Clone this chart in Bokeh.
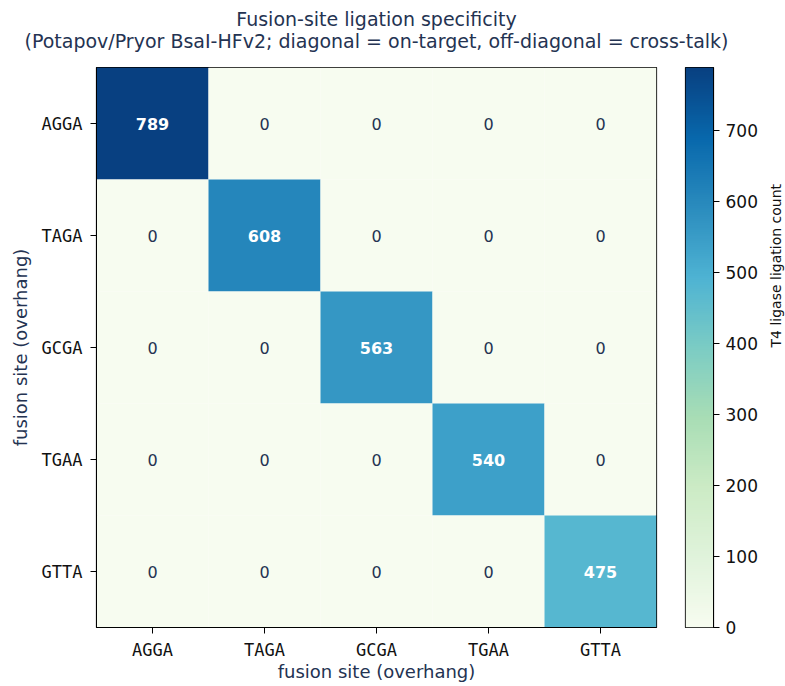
import math
import numpy as np
from bokeh.plotting import figure
from bokeh.layouts import row, column
from bokeh.models import (LinearColorMapper, FixedTicker, ColumnDataSource,
                          FactorRange, Range1d)
from bokeh.transform import transform
from bokeh.embed import file_html
from bokeh.resources import INLINE
from bokeh.core.properties import value

# ---- data ----
sites = ["AGGA", "TAGA", "GCGA", "TGAA", "GTTA"]
counts = [
    [789, 0, 0, 0, 0],
    [0, 608, 0, 0, 0],
    [0, 0, 563, 0, 0],
    [0, 0, 0, 540, 0],
    [0, 0, 0, 0, 475],
]
cbar_ticks = [0, 100, 200, 300, 400, 500, 600, 700]

title_lines = ["Fusion-site ligation specificity",
               "(Potapov/Pryor BsaI-HFv2; diagonal = on-target, off-diagonal = cross-talk)"]
xlabel = "fusion site (overhang)"
ylabel = "fusion site (overhang)"
cbar_label = "T4 ligase ligation count"

# ---- colormap (GnBu) ----
gnbu9 = ['#f7fcf0', '#e0f3db', '#ccebc5', '#a8ddb5', '#7bccc4', '#4eb3d3', '#2b8cbe', '#0868ac', '#084081']
def hex2rgb(h):
    return tuple(int(h[i:i + 2], 16) for i in (1, 3, 5))
pal = []
n = 256
for k in range(n):
    t = k / (n - 1) * (len(gnbu9) - 1)
    i = min(int(t), len(gnbu9) - 2)
    f = t - i
    a, b = hex2rgb(gnbu9[i]), hex2rgb(gnbu9[i + 1])
    c = tuple(round(a[j] + (b[j] - a[j]) * f) for j in range(3))
    pal.append("#%02x%02x%02x" % c)

vmax = max(max(r) for r in counts)
mapper = LinearColorMapper(palette=pal, low=0, high=vmax)

xs, ys, vals, lbl = [], [], [], []
for r, rw in enumerate(counts):
    for c, v in enumerate(rw):
        xs.append(sites[c]); ys.append(sites[r]); vals.append(v); lbl.append(str(v))
src = ColumnDataSource(dict(x=xs, y=ys, v=vals, t=lbl))
hi = ColumnDataSource(dict(x=[x for x, v in zip(xs, vals) if v > vmax / 2],
                           y=[y for y, v in zip(ys, vals) if v > vmax / 2],
                           t=[t for t, v in zip(lbl, vals) if v > vmax / 2]))
lo = ColumnDataSource(dict(x=[x for x, v in zip(xs, vals) if v <= vmax / 2],
                           y=[y for y, v in zip(ys, vals) if v <= vmax / 2],
                           t=[t for t, v in zip(lbl, vals) if v <= vmax / 2]))

navy = "#243352"
TITLE_H = 60
TOP, BOTTOM = 7, 59

# ---- title strip ----
tf = figure(frame_width=785, frame_height=TITLE_H, x_range=Range1d(0, 785), y_range=Range1d(TITLE_H, 0),
            output_backend="svg", toolbar_location=None, min_border=0)
tf.title = None
tf.axis.visible = False
tf.grid.visible = False
tf.outline_line_color = None
tf.text(x=[376, 376], y=[18, 40], text=title_lines, text_color=navy,
        text_font=value("DejaVu Sans"), text_font_size="19px",
        text_align="center", text_baseline="middle")

# ---- heatmap ----
p = figure(frame_width=560, frame_height=560,
           x_range=FactorRange(*sites), y_range=FactorRange(*reversed(sites)),
           output_backend="svg", toolbar_location=None,
           min_border_left=96, min_border_right=2, min_border_top=TOP, min_border_bottom=BOTTOM)
p.title = None
p.rect(x="x", y="y", width=1, height=1, source=src,
       fill_color=transform("v", mapper), line_color=None)
p.text(x="x", y="y", text="t", source=hi, text_color="white",
       text_font=value("DejaVu Sans"), text_font_style="bold", text_font_size="16px",
       text_align="center", text_baseline="middle")
p.text(x="x", y="y", text="t", source=lo, text_color=navy,
       text_font=value("DejaVu Sans"), text_font_size="16px",
       text_align="center", text_baseline="middle")

p.grid.visible = False
p.outline_line_color = "black"
p.outline_line_width = 1.2
for ax in (p.xaxis[0], p.yaxis[0]):
    ax.major_tick_out = 6
    ax.major_tick_in = 0
    ax.major_tick_line_color = "black"
    ax.axis_line_color = "black"
    ax.major_label_text_font = "DejaVu Sans Mono"
    ax.major_label_text_font_size = "17px"
    ax.major_label_text_color = "#111111"
    ax.axis_label_text_font = "DejaVu Sans"
    ax.axis_label_text_font_size = "18px"
    ax.axis_label_text_font_style = "normal"
    ax.axis_label_text_color = navy
p.xaxis.axis_label = xlabel
p.yaxis.axis_label = ylabel
p.xaxis.major_label_standoff = 6
p.xaxis.axis_label_standoff = -2
p.yaxis.major_label_standoff = 8
p.yaxis.axis_label_standoff = 8

# ---- colour bar as its own small figure ----
cbf = figure(frame_width=28, frame_height=560, x_range=Range1d(0, 1), y_range=Range1d(0, vmax),
             y_axis_location="right", output_backend="svg", toolbar_location=None,
             min_border_left=27, min_border_right=0, min_border_top=TOP, min_border_bottom=BOTTOM)
cbf.title = None
levels = np.linspace(0, vmax, 512).reshape(-1, 1)
cbf.image(image=[levels], x=0, y=0, dw=1, dh=vmax, color_mapper=mapper)
cbf.xaxis.visible = False
cbf.grid.visible = False
cbf.outline_line_color = "black"
cbf.outline_line_width = 1.2
ya = cbf.yaxis[0]
ya.ticker = FixedTicker(ticks=cbar_ticks)
ya.major_tick_out = 6
ya.major_tick_in = 0
ya.minor_tick_line_color = None
ya.major_tick_line_color = "black"
ya.axis_line_color = "black"
ya.major_label_standoff = 6
ya.major_label_text_font = "DejaVu Sans"
ya.major_label_text_font_size = "17px"
ya.major_label_text_color = "#111111"
ya.axis_label = cbar_label
ya.axis_label_text_font = "DejaVu Sans"
ya.axis_label_text_font_size = "14px"
ya.axis_label_text_font_style = "normal"
ya.axis_label_text_color = "#111111"
ya.axis_label_standoff = 15
ya.axis_label_orientation = math.pi / 2

layout = column(tf, row(p, cbf))
open("out.html", "w").write(file_html(layout, INLINE))
